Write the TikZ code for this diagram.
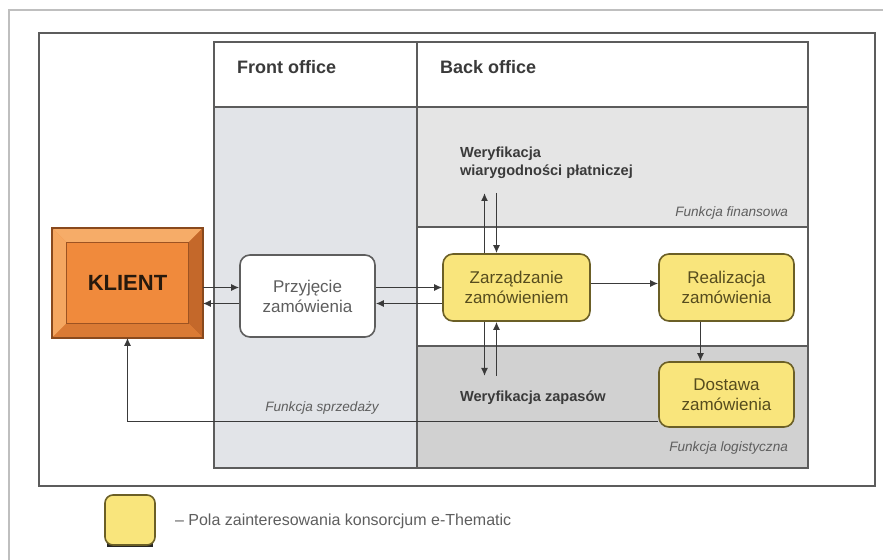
\documentclass[tikz,border=0pt]{standalone}
\usepackage{fontspec}
\setmainfont{Liberation Sans}
\usepackage{xcolor}
\usepackage{tikz}
\usetikzlibrary{arrows.meta, positioning, calc}

\definecolor{ramka}{HTML}{5C5C5C}
\definecolor{frontbg}{HTML}{E2E4E8}
\definecolor{finbg}{HTML}{E5E5E5}
\definecolor{logbg}{HTML}{D1D1D1}
\definecolor{zolty}{HTML}{F9E57C}
\definecolor{zoltyram}{HTML}{6B5F26}
\definecolor{pomar}{HTML}{F08A3C}
\definecolor{pomarjasny}{HTML}{F6AC68}
\definecolor{pomarciemny}{HTML}{C4682A}
\definecolor{pomarsredni}{HTML}{DA7A34}
\definecolor{tekst}{HTML}{3A3A3A}
\definecolor{szary}{HTML}{5E5E5E}

\begin{document}
\begin{tikzpicture}[
    x=0.5pt, y=-0.5pt,
    box/.style={rectangle, rounded corners=5pt, draw=zoltyram, fill=zolty, line width=0.8pt, minimum width=67.5pt, minimum height=33.5pt, align=center, font=\fontsize{8.5}{10}\selectfont, text=zoltyram!80!black},
    whitebox/.style={box, draw=szary, fill=white, text=szary, minimum height=41pt},
    klientbox/.style={rectangle, draw=pomarciemny!70!black, fill=pomar, line width=0.8pt, minimum width=74.5pt, minimum height=54pt, font=\bfseries\fontsize{11}{13}\selectfont, text=black!80!brown},
    head/.style={anchor=west, font=\bfseries\fontsize{9}{11}\selectfont, text=tekst},
    label/.style={anchor=west, align=left, font=\bfseries\fontsize{7.3}{9}\selectfont, text=tekst},
    func/.style={anchor=east, font=\itshape\fontsize{6.8}{8}\selectfont, text=szary},
    line/.style={draw=ramka, line width=0.8pt},
    arrow/.style={-{Latex[length=4pt,width=3.5pt]}, line width=0.7pt, draw=tekst}
]

\useasboundingbox (0,0) rectangle (883,560);

% ramki
\draw[gray!50, line width=0.8pt] (9,560) -- (9,10) -- (883,10);
\draw[line, line width=1pt] (39,33) rectangle (875,486);

% tabela
\fill[frontbg] (214,107) rectangle (417,468);
\fill[finbg] (417,107) rectangle (808,227);
\fill[logbg] (417,346) rectangle (808,468);
\draw[line] (214,42) rectangle (808,468);
\draw[line] (214,107) -- (808,107);
\draw[line] (417,42) -- (417,468);
\draw[line] (417,227) -- (808,227);
\draw[line] (417,346) -- (808,346);

% naglowki
\node[head] (front) at (230,67) {Front office};
\node[head] (back) at (433,67) {Back office};

% klient
\node[klientbox] (klient) at (127.5,283) {KLIENT};
\fill[pomarjasny] (klient.north west) -- (klient.north east) -- ($(klient.north east)+(-7pt,-7pt)$) -- ($(klient.north west)+(7pt,-7pt)$) -- cycle;
\fill[pomarjasny!85!pomar] (klient.north west) -- (klient.south west) -- ($(klient.south west)+(7pt,7pt)$) -- ($(klient.north west)+(7pt,-7pt)$) -- cycle;
\fill[pomarciemny] (klient.north east) -- (klient.south east) -- ($(klient.south east)+(-7pt,7pt)$) -- ($(klient.north east)+(-7pt,-7pt)$) -- cycle;
\fill[pomarsredni] (klient.south west) -- (klient.south east) -- ($(klient.south east)+(-7pt,7pt)$) -- ($(klient.south west)+(7pt,7pt)$) -- cycle;
\draw[pomarciemny!70!black, line width=0.8pt] (klient.north west) rectangle (klient.south east);
\draw[pomarciemny!80!black, line width=0.4pt] ($(klient.north west)+(7pt,-7pt)$) rectangle ($(klient.south east)+(-7pt,7pt)$);

% wezly
\node[whitebox] (przyjecie) at (307.5,296) {Przyjęcie\\zamówienia};
\node[box, minimum width=73.5pt] (zarz) at (516.5,287.5) {Zarządzanie\\zamówieniem};
\node[box] (real) at (726.5,287.5) {Realizacja\\zamówienia};
\node[box, minimum height=32.5pt] (dost) at (726.5,394.5) {Dostawa\\zamówienia};

% etykiety
\node[label] (weryfP) at (453,163) {Weryfikacja\\wiarygodności płatniczej};
\node[label] (weryfZ) at (453,398) {Weryfikacja zapasów};
\node[func] (finans) at (795,213) {Funkcja finansowa};
\node[func, anchor=center] (sprzed) at (322,408) {Funkcja sprzedaży};
\node[func] (logist) at (795,448) {Funkcja logistyczna};

% strzalki
\coordinate (lo) at ([yshift=-8pt]zarz.west);
\coordinate (va) at ([xshift=-16pt]zarz.north);
\coordinate (vb) at ([xshift=-10pt]zarz.north);
\coordinate (vc) at ([xshift=-16pt]zarz.south);
\coordinate (vd) at ([xshift=-10pt]zarz.south);
\coordinate (fintop) at (490,193);
\coordinate (logbot) at (490,376);

\draw[arrow] (klient.east |- zarz) -- (przyjecie.west |- zarz);
\draw[arrow] (przyjecie.west |- lo) -- (klient.east |- lo);
\draw[arrow] (przyjecie.east |- zarz) -- (zarz.west);
\draw[arrow] (lo) -- (przyjecie.east |- lo);
\draw[arrow] ([yshift=2pt]zarz.east) -- ([yshift=2pt]real.west);
\draw[arrow] (va) -- (va |- fintop);
\draw[arrow] (vb |- fintop) -- (vb);
\draw[arrow] (vc) -- (vc |- logbot);
\draw[arrow] (vd |- logbot) -- (vd);
\draw[arrow] ([xshift=-13pt]real.south) -- ([xshift=-13pt]dost.north);
\draw[arrow] ([yshift=3pt]dost.south west) -| (klient.south);

% legenda
\fill[black!85] (107,541) rectangle (153,547);
\node[box, minimum width=25pt, minimum height=25pt, rounded corners=4pt] (legenda) at (130,520) {};
\node[anchor=west, font=\fontsize{8}{10}\selectfont, text=szary] (opis) at (168,521) {– Pola zainteresowania konsorcjum e-Thematic};

\end{tikzpicture}
\end{document}
